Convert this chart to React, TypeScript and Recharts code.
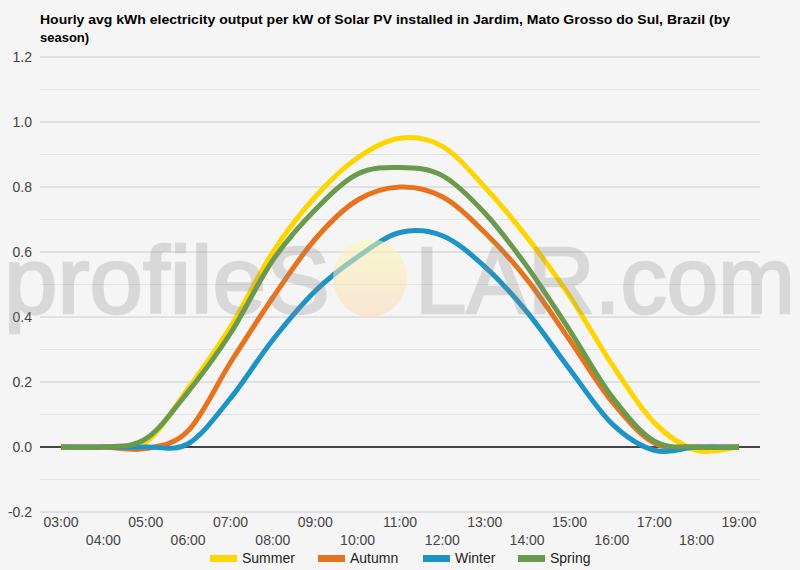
import React from "react";
import { LineChart, Line, XAxis, YAxis, CartesianGrid, ReferenceLine } from "recharts";

const hours = ["03:00","04:00","05:00","06:00","07:00","08:00","09:00","10:00","11:00","12:00","13:00","14:00","15:00","16:00","17:00","18:00","19:00"];
const summer = [0, 0, 0.015, 0.18, 0.37, 0.6, 0.77, 0.89, 0.95, 0.925, 0.8, 0.645, 0.465, 0.255, 0.075, -0.01, 0];
const autumn = [0, 0, -0.005, 0.05, 0.26, 0.46, 0.64, 0.76, 0.8, 0.77, 0.66, 0.515, 0.33, 0.14, 0.012, 0, 0];
const winter = [0, 0, 0, 0.01, 0.15, 0.33, 0.48, 0.585, 0.66, 0.65, 0.555, 0.415, 0.24, 0.072, -0.01, 0, 0];
const spring = [0, 0, 0.025, 0.17, 0.35, 0.575, 0.73, 0.84, 0.86, 0.835, 0.72, 0.555, 0.36, 0.155, 0.018, 0, 0];
const seriesNames = ["Summer", "Autumn", "Winter", "Spring"];
const seriesColors = ["#FFD500", "#E8731E", "#1E93C6", "#6A9A4C"];
const majorTicks = [-0.2, 0, 0.2, 0.4, 0.6, 0.8, 1.0, 1.2];
const minorTicks = [-0.1, 0.1, 0.3, 0.5, 0.7, 0.9, 1.1];
const titleLines = [
  "Hourly avg kWh electricity output per kW of Solar PV installed in Jardim, Mato Grosso do Sul, Brazil (by",
  "season)",
];

const data = hours.map((h, i) => ({
  hour: h,
  Summer: summer[i],
  Autumn: autumn[i],
  Winter: winter[i],
  Spring: spring[i],
}));

// Catmull-Rom style smoothing (like Google Charts "function" curve)
const smoothCurve: any = (context: any) => {
  let pts: number[][] = [];
  return {
    areaStart() {},
    areaEnd() {},
    lineStart() { pts = []; },
    point(x: number, y: number) { pts.push([+x, +y]); },
    lineEnd() {
      if (!pts.length) return;
      context.moveTo(pts[0][0], pts[0][1]);
      for (let i = 0; i < pts.length - 1; i++) {
        const p0 = pts[i - 1] || pts[i];
        const p1 = pts[i];
        const p2 = pts[i + 1];
        const p3 = pts[i + 2] || p2;
        context.bezierCurveTo(
          p1[0] + (p2[0] - p0[0]) / 6, p1[1] + (p2[1] - p0[1]) / 6,
          p2[0] - (p3[0] - p1[0]) / 6, p2[1] - (p3[1] - p1[1]) / 6,
          p2[0], p2[1]
        );
      }
    },
  };
};

const FONT = "Liberation Sans, Arial, sans-serif";

const XTick = (props: any) => {
  const { x, y, payload, index } = props;
  const row = index % 2;
  return (
    <text x={x} y={y + 7 + row * 18} textAnchor="middle" fontSize={14} fill="#444" fontFamily={FONT}>
      {payload.value}
    </text>
  );
};

export default function App() {
  return (
    <div style={{ position: "absolute", left: 0, top: 0, width: 800, height: 570, background: "#f5f5f5", overflow: "hidden", fontFamily: FONT }}>
      <svg width={800} height={50} style={{ position: "absolute", left: 0, top: 0 }}>
        <text x={40} y={24} fontSize={13} fontWeight="bold" fill="#000" textLength={690} lengthAdjust="spacingAndGlyphs" fontFamily={FONT}>{titleLines[0]}</text>
        <text x={40} y={42} fontSize={13} fontWeight="bold" fill="#000" fontFamily={FONT}>{titleLines[1]}</text>
      </svg>
      <div style={{ position: "absolute", left: 0, top: 0 }}>
        <LineChart width={800} height={570} data={data} margin={{ top: 57, right: 40, bottom: 0, left: 0 }}>
          <CartesianGrid vertical={false} stroke="#cccccc" />
          {minorTicks.map((t) => (
            <ReferenceLine key={t} y={t} stroke="#e2e2e2" strokeWidth={1} />
          ))}
          <ReferenceLine y={0} stroke="#111" strokeWidth={1.3} />
          <XAxis dataKey="hour" interval={0} tick={<XTick />} axisLine={false} tickLine={false} padding={{ left: 21, right: 21 }} height={58} />
          <YAxis
            domain={[-0.2, 1.2]}
            ticks={majorTicks}
            width={40}
            axisLine={false}
            tickLine={false}
            tickFormatter={(v: number) => v.toFixed(1)}
            tick={{ fontSize: 14, fill: "#444", fontFamily: FONT }}
            allowDataOverflow
          />
          {seriesNames.map((n, i) => (
            <Line key={n} dataKey={n} stroke={seriesColors[i]} strokeWidth={5} dot={false} activeDot={false} type={smoothCurve} isAnimationActive={false} />
          ))}
        </LineChart>
      </div>
      <svg width={800} height={570} style={{ position: "absolute", left: 0, top: 0, pointerEvents: "none" }}>
        <defs>
          <linearGradient id="sun" x1="0" y1="0" x2="0" y2="1">
            <stop offset="0%" stopColor="#fbf8b0" />
            <stop offset="100%" stopColor="#fbd9b8" />
          </linearGradient>
        </defs>
        <g opacity={0.55}>
          <ellipse cx={370} cy={278} rx={37} ry={39} fill="url(#sun)" />
        </g>
        <g opacity={0.26} fill="#8a8a8a" fontFamily={FONT} fontSize={94} stroke="#8a8a8a" strokeWidth={2.5}>
          <text x={4} y={313} textLength={326} lengthAdjust="spacingAndGlyphs">profileS</text>
          <text x={415} y={313} textLength={380} lengthAdjust="spacingAndGlyphs">LAR.com</text>
        </g>
      </svg>
      <div style={{ position: "absolute", left: 0, top: 549, width: 800, height: 18 }}>
        {seriesNames.map((n, i) => {
          const lefts = [210, 318, 423, 518];
          return (
            <div key={n} style={{ position: "absolute", left: lefts[i], top: 0, display: "flex", alignItems: "center", height: 18 }}>
              <div style={{ width: 27, height: 7, background: seriesColors[i], marginRight: 5 }} />
              <span style={{ fontSize: 14, color: "#222", fontFamily: FONT }}>{n}</span>
            </div>
          );
        })}
      </div>
    </div>
  );
}
